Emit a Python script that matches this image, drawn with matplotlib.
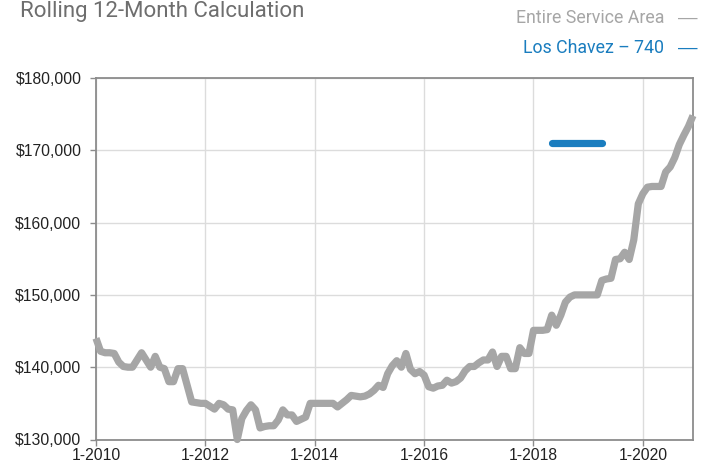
import matplotlib
matplotlib.use("Agg")
import matplotlib.pyplot as plt
from matplotlib.ticker import FuncFormatter

plt.rcParams['font.family'] = ['Liberation Sans', 'DejaVu Sans']

# months since Jan 2010
area_values = [
    144000, 142200, 142000, 142000, 141900, 140700, 140100, 140000, 140000, 141000,
    142000, 141000, 140000, 141500, 140000, 139800, 138000, 138000, 139800, 139800,
    137500, 135200, 135100, 135000, 135000, 134600, 134200, 135000, 134800, 134200,
    134100, 130000, 132900, 134000, 134800, 134100, 131600, 131800, 131900, 131900,
    132700, 134100, 133400, 133400, 132500, 132800, 133100, 135000, 135000, 135000,
    135000, 135000, 135000, 134500, 135000, 135500, 136100, 136000, 135900, 136000,
    136300, 136800, 137500, 137200, 139100, 140200, 140900, 140000, 141900, 139700,
    139100, 139400, 138900, 137300, 137100, 137400, 137500, 138200, 137800, 138000,
    138500, 139500, 140100, 140100, 140600, 141000, 141000, 142100, 140100, 141500,
    141500, 139800, 139800, 142700, 141900, 141900, 145100, 145100, 145100, 145200,
    147200, 145800, 147200, 149000, 149700, 150000, 150000, 150000, 150000, 150000,
    150000, 152000, 152200, 152300, 154900, 155000, 155900, 154900, 157600, 162600,
    164000, 164900, 165000, 165000, 165000, 167000, 167700, 169000, 170800, 172100,
    173300, 174800,
]
area_months = list(range(len(area_values)))

chavez_months = [100, 101, 102, 103, 104, 105, 106, 107, 108, 109, 110, 111]
chavez_values = [171000] * 12

tick_months = [0, 24, 48, 72, 96, 120]
tick_labels = ["1-2010", "1-2012", "1-2014", "1-2016", "1-2018", "1-2020"]
y_ticks = [130000, 140000, 150000, 160000, 170000, 180000]

fig = plt.figure(figsize=(7.04, 4.66), dpi=100)
ax = fig.add_axes([96/704, 1-439.5/466, (693-96)/704, (439.5-78)/466])

ax.plot(area_months, area_values, color="#a6a6a6", lw=5.2, solid_capstyle="butt",
        solid_joinstyle="round", zorder=3, clip_on=False)
ax.plot(chavez_months, chavez_values, color="#1a7dbf", lw=5.2, solid_capstyle="round", zorder=4)

ax.set_xlim(0, 131)
ax.set_ylim(130000, 180000)
ax.set_xticks(tick_months)
ax.set_xticklabels(tick_labels)
ax.set_yticks(y_ticks)
ax.yaxis.set_major_formatter(FuncFormatter(lambda v, p: "${:,.0f}".format(v)))
ax.grid(True, color="#dcdcdc", lw=1.0)
ax.set_axisbelow(True)
for s in ax.spines.values():
    s.set_color("#8c8c8c")
    s.set_linewidth(1.3)
ax.tick_params(axis="both", colors="#8c8c8c", length=4, width=1.0, labelcolor="#222222",
               labelsize=11.3)
ax.tick_params(axis="y", pad=6.5)
ax.tick_params(axis="x", pad=2)

roboto = ["Roboto", "DejaVu Sans"]
lib = ["Liberation Sans", "DejaVu Sans"]
fig.text(20/704, 1-1/466, "Rolling 12-Month Calculation", fontsize=16, color="#6e6e6e",
         ha="left", va="top", family=roboto)
fig.text(664/704, 1-18/466, "Entire Service Area", fontsize=12.8, color="#a6a6a6",
         ha="right", va="center", family=roboto)
fig.text(697/704, 1-18/466, "—", fontsize=14, color="#a6a6a6",
         ha="right", va="center", family=lib)
fig.text(664/704, 1-48/466, "Los Chavez – 740", fontsize=12.8, color="#1a7dbf",
         ha="right", va="center", family=roboto)
fig.text(697/704, 1-48/466, "—", fontsize=14, color="#1a7dbf",
         ha="right", va="center", family=lib)

fig.savefig("out.png", dpi=100)
